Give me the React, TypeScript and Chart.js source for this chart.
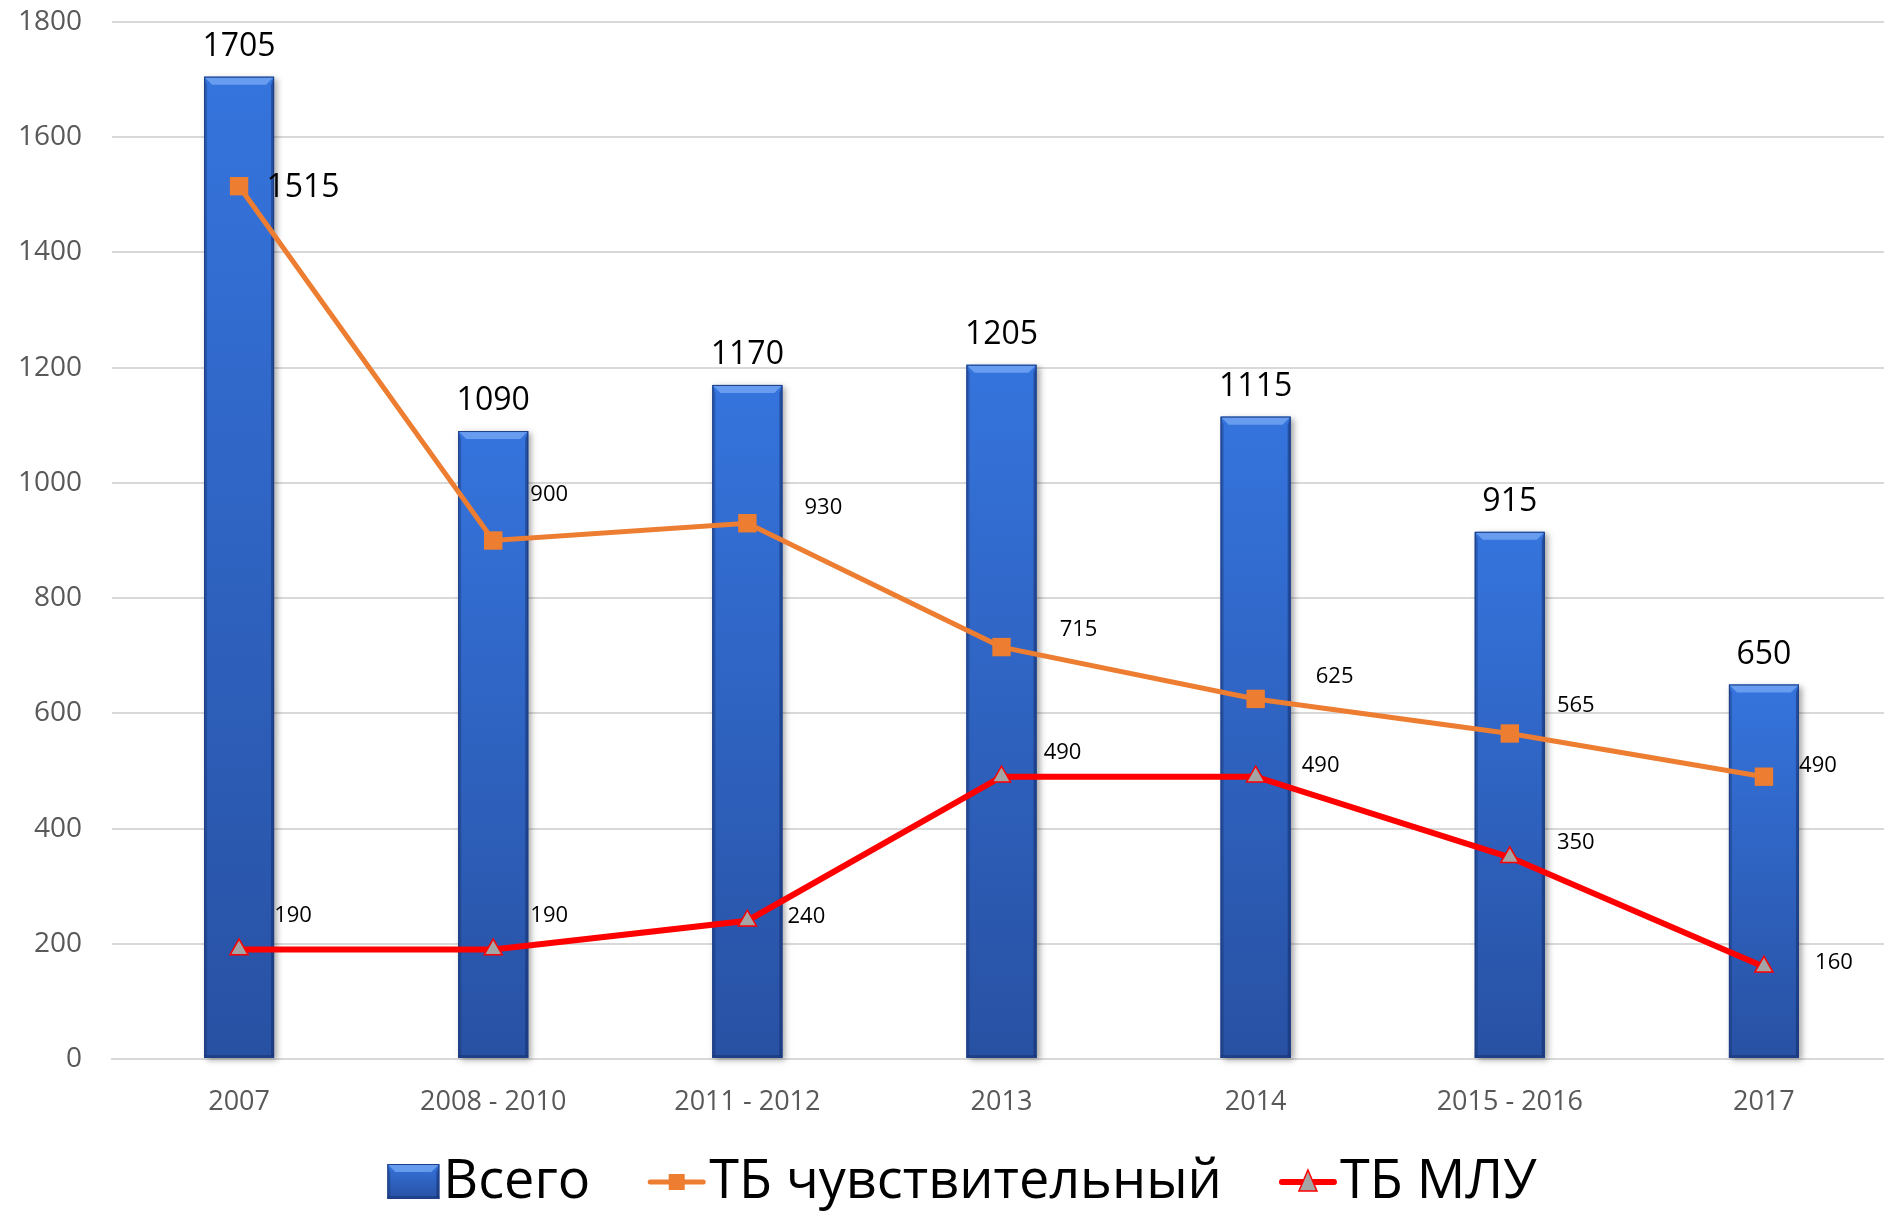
import React, { useEffect, useRef } from "react";
import { Chart, registerables } from "chart.js";

Chart.register(...registerables);

const categories = ["2007", "2008 - 2010", "2011 - 2012", "2013", "2014", "2015 - 2016", "2017"];
const totalValues = [1705, 1090, 1170, 1205, 1115, 915, 650];
const sensitiveValues = [1515, 900, 930, 715, 625, 565, 490];
const mdrValues = [190, 190, 240, 490, 490, 350, 160];
const seriesNames = ["Всего", "ТБ чувствительный", "ТБ МЛУ"];
const yMin = 0;
const yMax = 1800;
const yStep = 200;

// label placement relative to each point (px)
const sensitiveLabelOffsets = [[64, 2], [56, -46], [76, -15], [77, -17], [79, -22], [66, -28], [54, -11]];
const mdrLabelOffsets = [[54, -34], [56, -34], [59, -4], [61, -24], [65, -11], [66, -15], [70, -4]];

const FONT = "'Open Sans', 'Noto Sans', sans-serif";
const ORANGE = "#ED7D31";
const RED = "#FF0000";
const GREY = "#A5A5A5";

function drawBevelBar(ctx: CanvasRenderingContext2D, left: number, top: number, right: number, bottom: number) {
  const g = ctx.createLinearGradient(0, top, 0, bottom);
  g.addColorStop(0, "#3574DD");
  g.addColorStop(1, "#2851A3");
  ctx.fillStyle = g;
  ctx.fillRect(left, top, right - left, bottom - top);
  const b = Math.min(8, (bottom - top) / 3);
  ctx.fillStyle = "rgba(120,170,245,0.75)";
  ctx.beginPath();
  ctx.moveTo(left, top);
  ctx.lineTo(right, top);
  ctx.lineTo(right - b, top + b);
  ctx.lineTo(left + b, top + b);
  ctx.closePath();
  ctx.fill();
  ctx.fillStyle = "rgba(15,35,90,0.45)";
  ctx.beginPath();
  ctx.moveTo(right, top);
  ctx.lineTo(right, bottom);
  ctx.lineTo(right - 3, bottom - 3);
  ctx.lineTo(right - 3, top + b);
  ctx.closePath();
  ctx.fill();
  ctx.fillStyle = "rgba(15,35,90,0.3)";
  ctx.beginPath();
  ctx.moveTo(left, top);
  ctx.lineTo(left, bottom);
  ctx.lineTo(left + 3, bottom - 3);
  ctx.lineTo(left + 3, top + b);
  ctx.closePath();
  ctx.fill();
  ctx.fillStyle = "rgba(15,35,90,0.35)";
  ctx.fillRect(left, bottom - 3, right - left, 3);
  ctx.strokeStyle = "#1E3F86";
  ctx.lineWidth = 1;
  ctx.strokeRect(left + 0.5, top + 0.5, right - left - 1, bottom - top - 1);
}

const barPlugin = {
  id: "bevelBars",
  afterDatasetDraw(chart: any, args: any) {
    if (args.index !== 0) return;
    const ctx = chart.ctx as CanvasRenderingContext2D;
    const meta = chart.getDatasetMeta(0);
    ctx.save();
    meta.data.forEach((bar: any) => {
      const w = bar.width;
      ctx.shadowColor = "rgba(0,0,0,0.35)";
      ctx.shadowBlur = 6;
      ctx.shadowOffsetX = 3;
      ctx.shadowOffsetY = 2;
      ctx.fillStyle = "#2a55a8";
      ctx.fillRect(bar.x - w / 2, bar.y, w, bar.base - bar.y);
      ctx.shadowColor = "transparent";
      drawBevelBar(ctx, bar.x - w / 2, bar.y, bar.x + w / 2, bar.base);
    });
    ctx.restore();
  },
};

const labelPlugin = {
  id: "valueLabels",
  afterDatasetsDraw(chart: any) {
    const ctx = chart.ctx as CanvasRenderingContext2D;
    ctx.save();
    ctx.fillStyle = "#000";
    ctx.textAlign = "center";
    ctx.textBaseline = "middle";
    const barMeta = chart.getDatasetMeta(0);
    ctx.font = `32px ${FONT}`;
    barMeta.data.forEach((bar: any, i: number) => {
      ctx.fillText(String(totalValues[i]), bar.x, bar.y - 30);
    });
    const sMeta = chart.getDatasetMeta(1);
    sMeta.data.forEach((p: any, i: number) => {
      ctx.font = i === 0 ? `32px ${FONT}` : `22px ${FONT}`;
      const o = sensitiveLabelOffsets[i];
      ctx.fillText(String(sensitiveValues[i]), p.x + o[0], p.y + o[1]);
    });
    const mMeta = chart.getDatasetMeta(2);
    ctx.font = `22px ${FONT}`;
    mMeta.data.forEach((p: any, i: number) => {
      const o = mdrLabelOffsets[i];
      ctx.fillText(String(mdrValues[i]), p.x + o[0], p.y + o[1]);
    });
    ctx.restore();
  },
};

const legendPlugin = {
  id: "customLegend",
  afterDraw(chart: any) {
    const ctx = chart.ctx as CanvasRenderingContext2D;
    ctx.save();
    ctx.font = `54px ${FONT}`;
    ctx.textBaseline = "middle";
    ctx.textAlign = "left";
    const cy = 1181;
    const symW = [52, 57, 56];
    const gapSym = 4;
    const gapItem = 58;
    const widths = seriesNames.map((n) => ctx.measureText(n).width);
    let total = 0;
    widths.forEach((w, i) => (total += symW[i] + gapSym + w));
    total += gapItem * 2;
    let x = 962 - total / 2;
    seriesNames.forEach((name, i) => {
      if (i === 0) {
        drawBevelBar(ctx, x, cy - 17, x + 52, cy + 18);
      } else {
        const color = i === 1 ? ORANGE : RED;
        ctx.strokeStyle = color;
        ctx.lineWidth = i === 1 ? 5 : 6;
        ctx.lineCap = "round";
        ctx.beginPath();
        ctx.moveTo(x + 2, cy + 1);
        ctx.lineTo(x + symW[i] - 2, cy + 1);
        ctx.stroke();
        const mx = x + symW[i] / 2;
        if (i === 1) {
          ctx.fillStyle = ORANGE;
          ctx.fillRect(mx - 8, cy - 7, 16, 16);
        } else {
          ctx.fillStyle = GREY;
          ctx.strokeStyle = RED;
          ctx.lineWidth = 1.5;
          ctx.beginPath();
          ctx.moveTo(mx, cy - 11);
          ctx.lineTo(mx + 9, cy + 10);
          ctx.lineTo(mx - 9, cy + 10);
          ctx.closePath();
          ctx.fill();
          ctx.stroke();
        }
      }
      x += symW[i] + gapSym;
      ctx.fillStyle = "#000";
      ctx.fillText(name, x, cy + 2);
      x += widths[i] + gapItem;
    });
    ctx.restore();
  },
};

export default function App() {
  const canvasRef = useRef<HTMLCanvasElement | null>(null);

  useEffect(() => {
    document.body.style.margin = "0";
    document.body.style.overflow = "hidden";
    const canvas = canvasRef.current;
    if (!canvas) return;
    const chart = new Chart(canvas, {
      type: "bar",
      data: {
        labels: categories,
        datasets: [
          {
            type: "bar",
            label: seriesNames[0],
            data: totalValues,
            backgroundColor: "rgba(0,0,0,0)",
            borderWidth: 0,
            barThickness: 70,
            order: 10,
          } as any,
          {
            type: "line",
            label: seriesNames[1],
            data: sensitiveValues,
            borderColor: ORANGE,
            backgroundColor: ORANGE,
            borderWidth: 5,
            pointStyle: "rect",
            pointRadius: 13,
            pointBorderWidth: 0,
            pointBackgroundColor: ORANGE,
            tension: 0,
            order: 2,
          } as any,
          {
            type: "line",
            label: seriesNames[2],
            data: mdrValues,
            borderColor: RED,
            backgroundColor: GREY,
            borderWidth: 6,
            pointStyle: "triangle",
            pointRadius: 10.5,
            pointBorderWidth: 1.5,
            pointBorderColor: RED,
            pointBackgroundColor: GREY,
            tension: 0,
            order: 1,
          } as any,
        ],
      },
      options: {
        responsive: false,
        animation: false,
        devicePixelRatio: 1,
        layout: { padding: { top: 22, left: 0, right: 0, bottom: 0 } },
        plugins: {
          legend: { display: false },
          tooltip: { enabled: false },
        },
        scales: {
          x: {
            offset: true,
            grid: { display: false, drawTicks: false },
            border: { display: true, color: "#D9D9D9", width: 2 },
            ticks: {
              color: "#595959",
              font: { family: FONT, size: 27 },
              padding: 27,
              maxRotation: 0,
              autoSkip: false,
            },
            afterFit: (s: any) => {
              s.height = 152;
            },
          },
          y: {
            min: yMin,
            max: yMax,
            grid: { color: "#D9D9D9", lineWidth: 2, drawTicks: false },
            border: { display: false },
            ticks: {
              stepSize: yStep,
              color: "#595959",
              font: { family: FONT, size: 28 },
              padding: 30,
              callback: (v: any) => String(v),
            },
            afterFit: (s: any) => {
              s.width = 112;
              s.paddingTop = 0;
              s.paddingBottom = 0;
            },
          },
        },
      },
      plugins: [barPlugin, labelPlugin, legendPlugin],
    });
    return () => chart.destroy();
  }, []);

  return (
    <div style={{ width: 1884, height: 1211, overflow: "hidden", background: "#fff" }}>
      <canvas ref={canvasRef} width={1904} height={1211} style={{ display: "block" }} />
    </div>
  );
}
